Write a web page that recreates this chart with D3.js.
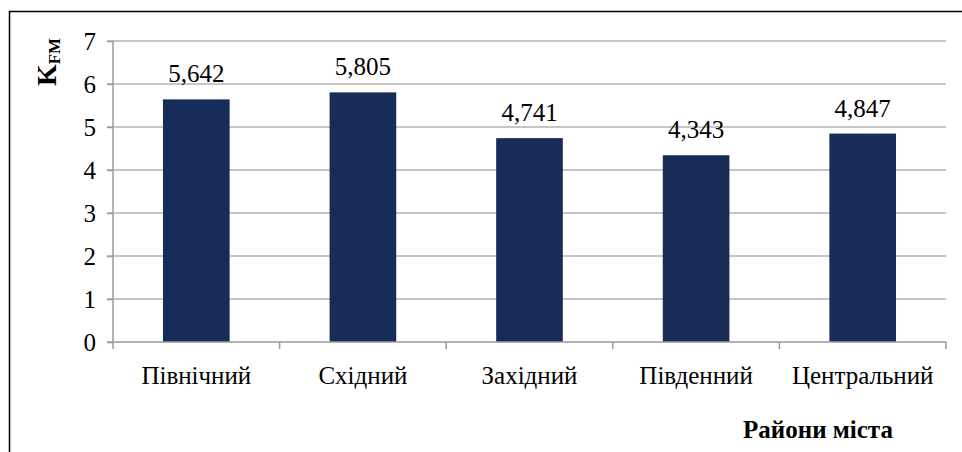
<!DOCTYPE html>
<html><head><meta charset="utf-8">
<script src="https://cdn.jsdelivr.net/npm/d3@7"></script>
<style>
body{margin:0;background:#fff}
svg text, svg tspan{font-family:"Liberation Serif" !important}
</style>
</head><body><svg id="c" width="962" height="452"></svg>
<script>
const categories = ["Північний","Східний","Західний","Південний","Центральний"];
const values = [5.642,5.805,4.741,4.343,4.847];
const valueLabels = ["5,642","5,805","4,741","4,343","4,847"];
const yTicks = [0,1,2,3,4,5,6,7];
const FONT = "Liberation Serif";

const svg = d3.select("#c");
const L=113,R=946,T=41,B=342;
const x = d3.scaleBand().domain(categories).range([L,R]).paddingInner(0.6).paddingOuter(0.3);
const y = d3.scaleLinear().domain([0,7]).range([B,T]);

// frame
svg.append("path").attr("d","M9.5,460 V11.5 H970").attr("fill","none").attr("stroke","#000").attr("stroke-width",1.5);

// gridlines
svg.append("g").selectAll("line").data(yTicks.filter(d=>d>0)).join("line")
 .attr("x1",L-6).attr("x2",R).attr("y1",d=>y(d)).attr("y2",d=>y(d))
 .attr("stroke","#b3b3b3").attr("stroke-width",1.5);

// y axis
const ya = svg.append("g").attr("transform",`translate(${L},0)`)
 .call(d3.axisLeft(y).tickValues(yTicks).tickFormat(d3.format("d")).tickSize(6).tickPadding(11));
ya.attr("font-family",FONT);
ya.select(".domain").attr("stroke","#9a9a9a").attr("stroke-width",1.5).attr("d",`M0,${T}V${B}`);
ya.selectAll(".tick line").attr("stroke","#9a9a9a").attr("stroke-width",1.5);
ya.selectAll("text").attr("font-size",25).style("font-family",FONT).attr("fill","#000");

// bars
svg.append("g").selectAll("rect").data(values).join("rect")
 .attr("x",(d,i)=>x(categories[i])).attr("width",x.bandwidth())
 .attr("y",d=>y(d)).attr("height",d=>B-y(d)).attr("fill","#172c59");

// x axis
svg.append("line").attr("x1",L-6).attr("x2",R).attr("y1",B).attr("y2",B).attr("stroke","#9a9a9a").attr("stroke-width",1.5);
const step = (R-L)/categories.length;
const bounds = d3.range(categories.length+1).map(i=>L+i*step);
svg.append("g").selectAll("line").data(bounds).join("line")
 .attr("x1",d=>d).attr("x2",d=>d).attr("y1",B).attr("y2",B+7).attr("stroke","#9a9a9a").attr("stroke-width",1.5);
svg.append("g").selectAll("text").data(categories).join("text")
 .attr("x",d=>x(d)+x.bandwidth()/2).attr("y",B+42).attr("text-anchor","middle")
 .style("font-family",FONT).attr("font-size",25).text(d=>d);

// value labels
svg.append("g").selectAll("text").data(values).join("text")
 .attr("x",(d,i)=>x(categories[i])+x.bandwidth()/2).attr("y",d=>y(d)-17).attr("text-anchor","middle")
 .style("font-family",FONT).attr("font-size",25).text((d,i)=>valueLabels[i]);

// y title
const yt = svg.append("text").attr("transform","translate(56,62) rotate(-90)").attr("text-anchor","middle")
 .style("font-family",FONT).attr("font-weight","bold");
yt.append("tspan").attr("font-size",28).text("K");
yt.append("tspan").attr("font-size",17).attr("dy",4).text("FM");

// x title
svg.append("text").attr("x",818).attr("y",438).attr("text-anchor","middle").style("font-family",FONT)
 .attr("font-weight","bold").attr("font-size",25).text("Райони міста");
</script></body></html>
